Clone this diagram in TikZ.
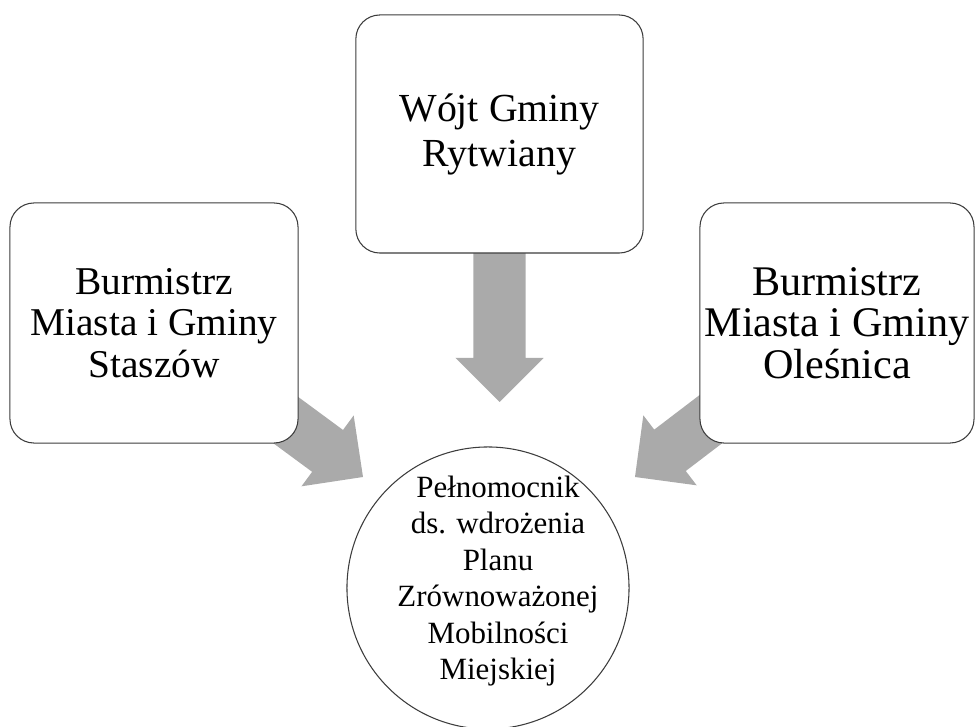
\documentclass[tikz,border=0pt]{standalone}
\usepackage{fontspec}
\setmainfont{Liberation Serif}
\usepackage{tikz}
\usetikzlibrary{backgrounds}
\usetikzlibrary{calc, positioning}

\definecolor{arrowgray}{RGB}{170,170,170}
\definecolor{edgegray}{RGB}{60,60,60}

% fat block arrow from a node centre to a tip coordinate
\newcommand\fatarrow[2]{%
  \path ($(#2)!31.3pt!(#1.center)$) coordinate (hb);
  \fill[arrowgray] ($(#1.center)!18.5pt!90:(#2)$) -- ($(hb)!18.5pt!90:(#2)$)
    -- ($(hb)!31.3pt!90:(#2)$) -- (#2) -- ($(hb)!31.3pt!-90:(#2)$)
    -- ($(hb)!18.5pt!-90:(#2)$) -- ($(#1.center)!18.5pt!-90:(#2)$) -- cycle;
}

\begin{document}
\begin{tikzpicture}[x=0.025cm, y=-0.025cm,
    officenode/.style={rectangle, draw=edgegray, line width=0.75pt, fill=white, rounded corners=0.6cm, align=center, inner sep=0pt, minimum height=6cm},
    circlenode/.style={circle, draw=edgegray, line width=0.75pt, fill=white, inner sep=0pt, minimum size=7.05cm},
    ]
    \useasboundingbox (0,0) rectangle (976,727);

    %Nodes
    \node[officenode, minimum width=7.2cm, font=\fontsize{28}{29.5}\selectfont] (staszow) at (154,323) {Burmistrz\\Miasta i Gminy\\Staszów};
    \node[officenode, minimum width=7.18cm, minimum height=5.95cm, font=\fontsize{28.3}{32}\selectfont] (rytwiany) at (499.5,134) {Wójt Gminy\\Rytwiany};
    \node[officenode, minimum width=6.85cm, font=\fontsize{30}{29.5}\selectfont] (olesnica) at (837,323) {Burmistrz\\Miasta i Gminy\\Oleśnica};
    \node[circlenode] (pelnomocnik) at (488,588) {};
    \node[align=center, inner sep=0pt, font=\fontsize{22}{26}\selectfont] (pelnotext) at (498,581) {Pełnomocnik\\ds. wdrożenia\\Planu\\Zrównoważonej\\Mobilności\\Miejskiej};

    %Arrow tips
    \coordinate (tipL) at (363,477);
    \coordinate (tipM) at (499.5,402);
    \coordinate (tipR) at (635,477);

    %Arrows
    \begin{scope}[on background layer]
      \fatarrow{staszow}{tipL}
      \fatarrow{rytwiany}{tipM}
      \fatarrow{olesnica}{tipR}
    \end{scope}
\end{tikzpicture}
\end{document}
